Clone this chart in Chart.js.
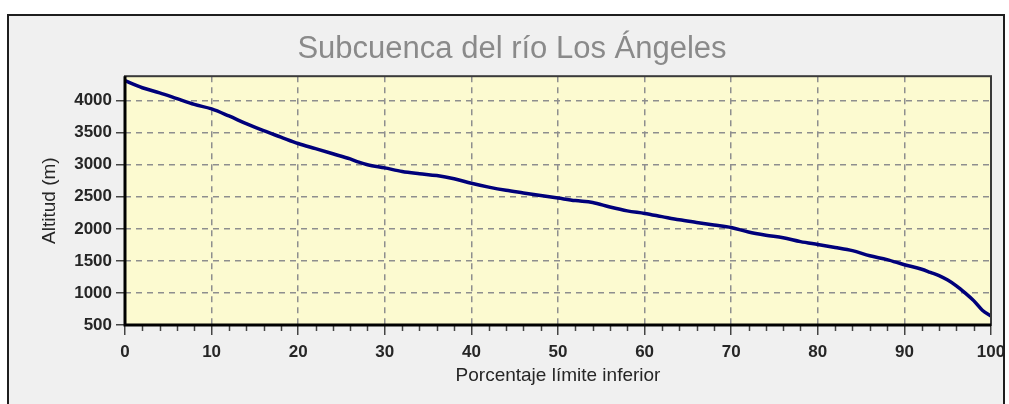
<!DOCTYPE html>
<html>
<head>
<meta charset="utf-8">
<script src="https://cdn.jsdelivr.net/npm/chart.js@4/dist/chart.umd.min.js"></script>
<style>
  html, body { margin: 0; padding: 0; background: #fff; overflow: hidden; }
  #frame {
    position: absolute; left: 7px; top: 14px;
    width: 994px; height: 390px;
    background: #f0f0f0;
    border: 2px solid #1e1e1e; border-bottom: none;
  }
  canvas { display: block; }
</style>
</head>
<body>
<div id="frame"><canvas id="chart" width="994" height="388"></canvas></div>
<script>
// curva hipsométrica
const porcentaje = [0, 2, 4, 6, 8, 10, 12, 14, 16, 18, 20, 22, 24, 26, 27, 28, 30, 32, 34, 36, 38,
  40, 42, 44, 46, 48, 50, 52, 54, 56, 58, 60, 62, 64, 66, 68, 70, 72, 74, 76, 78,
  80, 82, 84, 86, 88, 90, 92, 93, 94, 95, 96, 97, 98, 99, 100];
const altitud = [4310, 4200, 4120, 4030, 3940, 3870, 3760, 3640, 3530, 3430, 3330, 3250, 3170, 3090, 3040, 3000, 2950, 2895, 2860, 2830, 2780,
  2710, 2650, 2600, 2560, 2520, 2480, 2440, 2410, 2340, 2280, 2240, 2190, 2140, 2100, 2060, 2020, 1950, 1900, 1860, 1800,
  1755, 1710, 1660, 1580, 1520, 1440, 1370, 1320, 1270, 1200, 1110, 1000, 880, 730, 640];
const xTicks = [0, 10, 20, 30, 40, 50, 60, 70, 80, 90, 100];
const yTicks = [500, 1000, 1500, 2000, 2500, 3000, 3500, 4000];

const FONT = '"Liberation Sans", Arial, sans-serif';

const plotFrame = {
  id: 'plotFrame',
  beforeDraw(chart) {
    const { ctx, chartArea: a } = chart;
    ctx.save();
    ctx.fillStyle = '#fcfad0';
    ctx.fillRect(a.left, a.top, a.right - a.left, a.bottom - a.top);
    ctx.restore();
  },
  afterDraw(chart) {
    const { ctx, chartArea: a } = chart;
    const x = chart.scales.x;
    ctx.save();
    // marcas menores cada 2 %
    ctx.strokeStyle = '#444';
    ctx.lineWidth = 1.5;
    for (let v = 2; v < 100; v += 2) {
      if (v % 10 === 0) continue;
      const px = Math.round(x.getPixelForValue(v)) + 0.5;
      ctx.beginPath();
      ctx.moveTo(px, a.bottom);
      ctx.lineTo(px, a.bottom + 6);
      ctx.stroke();
    }
    // borde del área
    ctx.strokeStyle = '#3a3a3a';
    ctx.lineWidth = 2;
    ctx.strokeRect(a.left, a.top, a.right - a.left, a.bottom - a.top);
    ctx.strokeStyle = '#000';
    ctx.lineWidth = 3;
    ctx.beginPath();
    ctx.moveTo(a.left, a.top);
    ctx.lineTo(a.left, a.bottom);
    ctx.lineTo(a.right, a.bottom);
    ctx.stroke();
    ctx.restore();
  }
};

new Chart(document.getElementById('chart'), {
  type: 'line',
  data: {
    datasets: [{
      data: porcentaje.map((p, i) => ({ x: p, y: altitud[i] })),
      borderColor: '#00007a',
      borderWidth: 3.5,
      pointRadius: 0,
      cubicInterpolationMode: 'monotone',
      fill: false,
    }],
  },
  options: {
    responsive: false,
    animation: false,
    devicePixelRatio: 1,
    layout: { padding: { left: 24, right: 12, top: 0, bottom: 0 } },
    plugins: {
      legend: { display: false },
      tooltip: { enabled: false },
      title: {
        display: true,
        text: 'Subcuenca del río Los Ángeles',
        color: '#8a8a8a',
        font: { family: FONT, size: 31, weight: 'normal' },
        padding: { top: 15, bottom: 8 },
      },
    },
    scales: {
      x: {
        type: 'linear',
        min: 0,
        max: 100,
        afterBuildTicks: (s) => { s.ticks = xTicks.map((v) => ({ value: v })); },
        afterFit: (s) => { s.height = 79; s.paddingRight = 0; s.paddingLeft = 0; },
        grid: {
          color: (c) => (c.tick && (c.tick.value === 0 || c.tick.value === 100)) ? 'rgba(0,0,0,0)' : '#8e8e8e',
          lineWidth: 1.5,
          tickColor: '#444',
          tickLength: 10,
          tickBorderDash: [],
        },
        border: { display: false, dash: [6, 5] },
        ticks: {
          color: '#262626',
          padding: 7,
          maxRotation: 0,
          font: { family: FONT, size: 17, weight: 'bold' },
          callback: (v) => String(v),
        },
        title: {
          display: true,
          text: 'Porcentaje límite inferior',
          color: '#262626',
          font: { family: FONT, size: 19, weight: 'normal' },
          padding: { top: 17, bottom: 17 },
        },
      },
      y: {
        min: 500,
        max: 4380,
        afterBuildTicks: (s) => { s.ticks = yTicks.map((v) => ({ value: v })); },
        afterFit: (s) => { s.width = 92; },
        grid: {
          color: (c) => (c.tick && c.tick.value === 500) ? 'rgba(0,0,0,0)' : '#8e8e8e',
          lineWidth: 1.5,
          tickColor: '#444',
          tickLength: 9,
          tickBorderDash: [],
        },
        border: { display: false, dash: [6, 5] },
        ticks: {
          color: '#262626',
          padding: 4,
          font: { family: FONT, size: 17, weight: 'bold' },
          callback: (v) => String(v),
        },
        title: {
          display: true,
          text: 'Altitud (m)',
          color: '#262626',
          font: { family: FONT, size: 19, weight: 'normal' },
          padding: { top: 5, bottom: 5 },
        },
      },
    },
  },
  plugins: [plotFrame],
});
</script>
</body>
</html>
